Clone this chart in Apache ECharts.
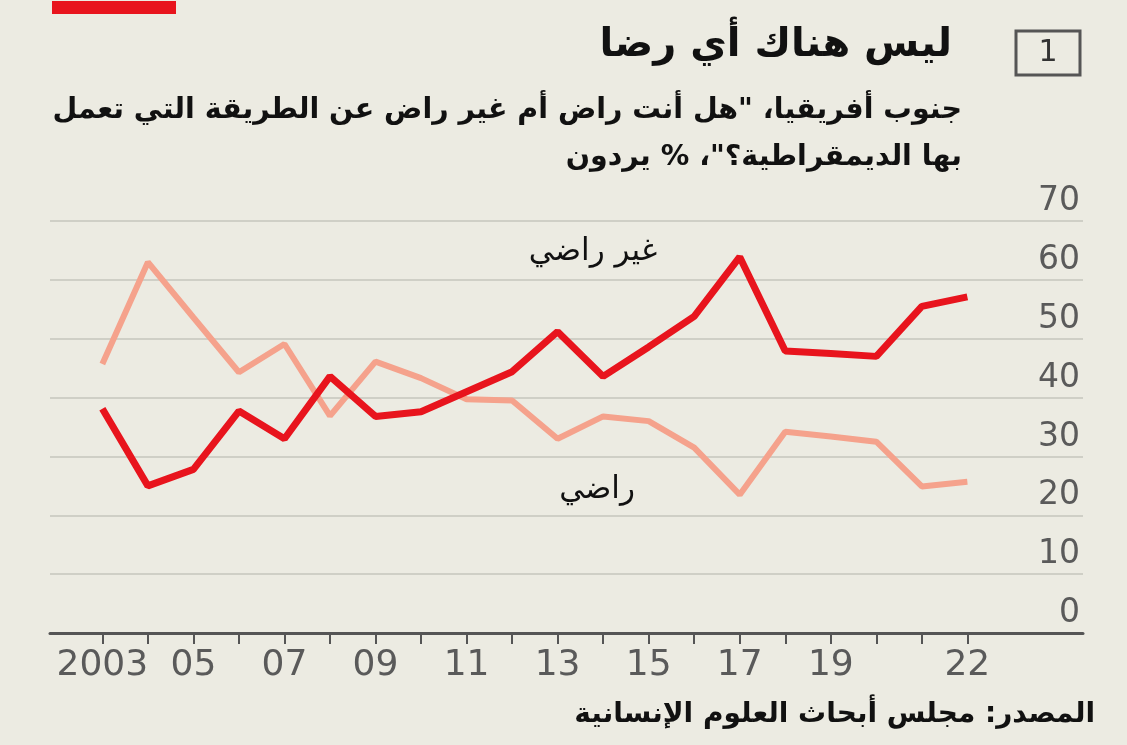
<!DOCTYPE html>
<html><head><meta charset="utf-8">
<script src="https://cdn.jsdelivr.net/npm/echarts@6/dist/echarts.min.js"></script>
<style>html,body{margin:0;padding:0;background:#ecebe2;}#c{width:1127px;height:745px;}</style>
</head><body><div id="c"></div>
<script>
const years = [2003,2004,2005,2006,2007,2008,2009,2010,2011,2012,2013,2014,2015,2016,2017,2018,2019,2020,2021,2022];
const dissatisfied = [38.1,25.0,27.8,37.7,33.0,43.6,36.8,37.6,41.0,44.4,51.2,43.6,48.6,53.8,63.9,47.9,47.5,47.0,55.5,57.1];
const satisfied = [45.7,63.0,53.6,44.3,49.1,36.9,46.1,43.3,39.7,39.5,33.0,36.8,36.0,31.5,23.5,34.2,33.4,32.5,24.9,25.7];
const labelYears = [2003,2005,2007,2009,2011,2013,2015,2017,2019,2022];
const yTicks = [0,10,20,30,40,50,60,70];
const title = 'ليس هناك أي رضا';
const subtitle1 = 'جنوب أفريقيا، "هل أنت راض أم غير راض عن الطريقة التي تعمل';
const subtitle2 = 'بها الديمقراطية؟"، % يردون';
const source = 'المصدر: مجلس أبحاث العلوم الإنسانية';
const labelDis = 'غير راضي';
const labelSat = 'راضي';
const chartNo = '1';

const arFont = '"DejaVu Sans", "Noto Sans", sans-serif';
const numFont = '"DejaVu Sans", sans-serif';

const chart = echarts.init(document.getElementById('c'), null, {renderer:'canvas'});
chart.setOption({
  backgroundColor: '#ecebe2',
  animation: false,
  grid: {left: 50, right: 44, top: 221, bottom: 112},
  xAxis: {
    type: 'value', min: 2001.85, max: 2024.54,
    splitLine: {show: false},
    axisLine: {show: true, lineStyle: {color: '#555', width: 3}},
    axisTick: {show: true, customValues: years, length: 11, lineStyle: {color: '#555', width: 2}},
    axisLabel: {customValues: labelYears, margin: 15, color: '#5a5a5a', fontSize: 36, fontFamily: numFont,
      formatter: v => v === 2003 ? '2003' : String(v).slice(2)}
  },
  yAxis: {
    type: 'value', min: 0, max: 70, interval: 10, position: 'right',
    axisLine: {show: false}, axisTick: {show: false},
    splitLine: {lineStyle: {color: '#c6c6bd', width: 1.5}},
    axisLabel: {inside: true, margin: 3, verticalAlign: 'bottom', padding: [0,0,3,0],
      color: '#5a5a5a', fontSize: 33, fontFamily: numFont,
      customValues: yTicks}
  },
  series: [
    {type: 'line', data: years.map((y,i)=>[y, satisfied[i]]), symbol: 'none',
      lineStyle: {color: '#f5a28c', width: 6}, z: 2},
    {type: 'line', data: years.map((y,i)=>[y, dissatisfied[i]]), symbol: 'none',
      lineStyle: {color: '#e8141d', width: 7}, z: 3}
  ],
  graphic: [
    {type: 'rect', shape: {x: 52, y: 1, width: 124, height: 13}, style: {fill: '#e8141d'}},
    {type: 'rect', shape: {x: 1016, y: 31, width: 64, height: 44}, style: {fill: 'none', stroke: '#555', lineWidth: 3}},
    {type: 'text', x: 1048, y: 53, style: {text: chartNo, fill: '#333', font: '30px ' + numFont, textAlign: 'center', textVerticalAlign: 'middle'}},
    {type: 'text', x: 952, y: 46, style: {text: title, fill: '#111', font: 'bold 40px ' + arFont, textAlign: 'right', textVerticalAlign: 'middle'}},
    {type: 'text', x: 962, y: 111, style: {text: subtitle1, fill: '#111', font: 'bold 28.5px ' + arFont, textAlign: 'right', textVerticalAlign: 'middle'}},
    {type: 'text', x: 962, y: 158, style: {text: subtitle2, fill: '#111', font: 'bold 28.5px ' + arFont, textAlign: 'right', textVerticalAlign: 'middle'}},
    {type: 'text', x: 593, y: 252, style: {text: labelDis, fill: '#111', font: '31px ' + arFont, textAlign: 'center', textVerticalAlign: 'middle'}},
    {type: 'text', x: 597, y: 490, style: {text: labelSat, fill: '#111', font: '31px ' + arFont, textAlign: 'center', textVerticalAlign: 'middle'}},
    {type: 'text', x: 1095, y: 715, style: {text: source, fill: '#111', font: 'bold 28px ' + arFont, textAlign: 'right', textVerticalAlign: 'middle'}}
  ]
});
</script></body></html>
